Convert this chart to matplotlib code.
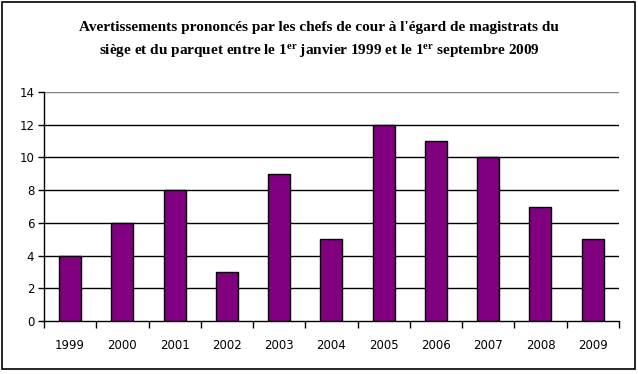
import matplotlib
matplotlib.use("Agg")
import matplotlib.pyplot as plt
from matplotlib.patches import Rectangle

years = ['1999', '2000', '2001', '2002', '2003', '2004', '2005', '2006', '2007', '2008', '2009']
counts = [4, 6, 8, 3, 9, 5, 12, 11, 10, 7, 5]

plt.rcParams['mathtext.fontset'] = 'custom'
plt.rcParams['mathtext.rm'] = 'Liberation Serif:bold'
plt.rcParams['mathtext.it'] = 'Liberation Serif:bold'
plt.rcParams['mathtext.bf'] = 'Liberation Serif:bold'

fig = plt.figure(figsize=(6.38, 3.74), dpi=100)
ax = fig.add_axes([0.069, 0.1417, 0.901, 0.6123])

x = range(len(years))
ax.bar(x, counts, width=0.42, color='#800080', edgecolor='black', linewidth=1, zorder=3)

ax.set_xlim(-0.5, len(years) - 0.5)
ax.set_ylim(0, 14)
ax.set_yticks(range(0, 15, 2))
ax.set_xticks(x)
ax.set_xticklabels(years)
ax.set_xticks([i + 0.5 for i in range(-1, len(years))], minor=True)
ax.tick_params(axis='x', which='major', length=0, pad=13, labelsize=8.5)
ax.tick_params(axis='x', which='minor', length=5, direction='out', width=1)
ax.tick_params(axis='y', length=4, direction='out', width=1, labelsize=8.5, pad=3)

for v in range(2, 13, 2):
    ax.axhline(v, color='black', linewidth=1, zorder=1)
ax.axhline(14, color='#808080', linewidth=1, zorder=1)

for s in ['top', 'right']:
    ax.spines[s].set_visible(False)
ax.spines['left'].set_linewidth(1)
ax.spines['bottom'].set_linewidth(1)

title = ("Avertissements prononcés par les chefs de cour à l'égard de magistrats du\n"
         "siège et du parquet entre le 1$^{\\rm er}$ janvier 1999 et le 1$^{\\rm er}$ septembre 2009")
fig.text(0.5, 0.893, title, ha='center', va='center', family='Liberation Serif',
         fontweight='bold', fontsize=11, linespacing=1.6)

fig.patches.append(Rectangle((0.003, 0.013), 0.992, 0.982, transform=fig.transFigure,
                             fill=False, edgecolor='black', linewidth=1.2))

fig.savefig('out.png', dpi=100)
